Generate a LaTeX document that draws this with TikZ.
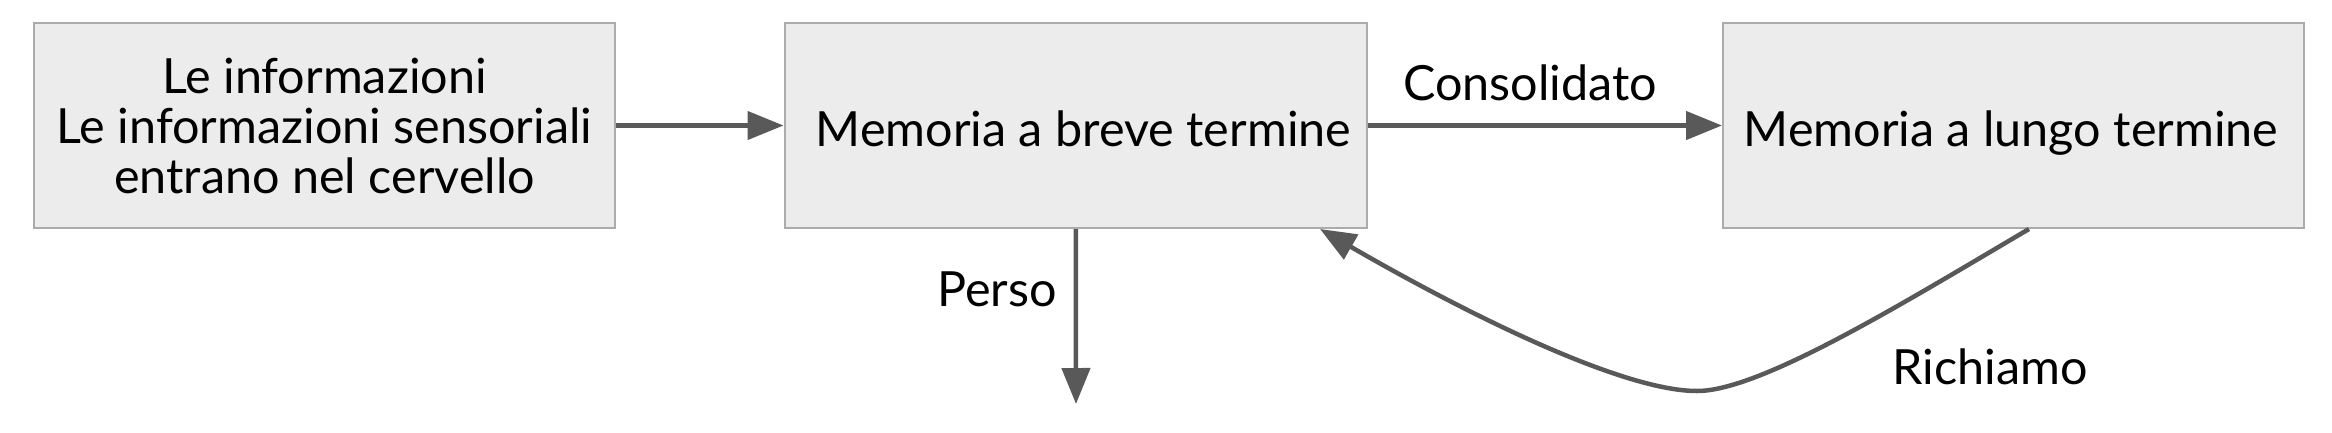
\documentclass[tikz,border=0pt]{standalone}
\usepackage{fontspec}
\setmainfont{Lato}
\usetikzlibrary{arrows.meta}
\definecolor{boxfill}{HTML}{ECECEC}
\definecolor{boxline}{HTML}{ABABAB}
\definecolor{arr}{HTML}{595959}
\begin{document}
\begin{tikzpicture}[x=1pt,y=-1pt,
  box/.style={draw=boxline,line width=2pt,fill=boxfill,rectangle,minimum width=581pt,minimum height=205pt,inner sep=0pt},
  lbl/.style={font=\fontsize{48.5}{50}\selectfont,inner sep=0pt,anchor=base},
  conn/.style={draw=arr,line width=4.5pt,-{Triangle[length=36pt,width=28pt]}}]
\useasboundingbox (0,0) rectangle (2332,432);
\fill[white] (0,0) rectangle (2332,432);
\node[box] (b1) at (324.5,125.5) {};
\node[box,minimum width=582.5pt] (b2) at (1075.75,125.5) {};
\node[box] (b3) at (2013.5,125.5) {};
\node[lbl,align=center,anchor=center] (t1) at (324.5,126) {Le informazioni\\Le informazioni sensoriali\\entrano nel cervello};
\node[lbl] (t2) at (1083.5,146.7) {Memoria a breve termine};
\node[lbl] (t3) at (2011,146.7) {Memoria a lungo termine};
\coordinate (lost) at (1076,404);
\coordinate (rs) at ([xshift=307pt]b3.south west);
\coordinate (re) at ([xshift=536.5pt]b2.south west);
\draw[conn] (b1.east) -- (b2.west);
\draw[conn] (b2.east) -- (b3.west);
\draw[conn] (b2.south) -- (lost);
\draw[conn] (rs) .. controls (1900,305) and (1760,391) .. (1697,391) .. controls (1620,391) and (1460,310) .. (re);
\node[lbl] (l1) at (1530,100) {Consolidato};
\node[lbl] (l2) at (997,306.7) {Perso};
\node[lbl] (l3) at (1990,384) {Richiamo};
\end{tikzpicture}
\end{document}
